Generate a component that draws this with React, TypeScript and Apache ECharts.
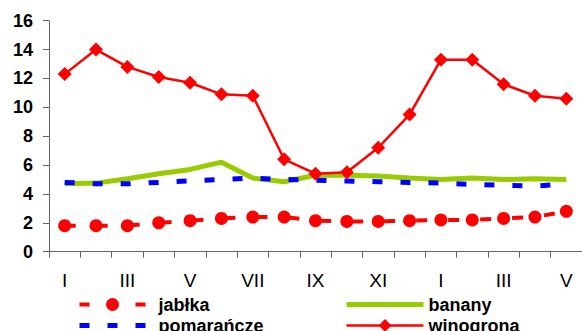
import React, { useEffect, useRef } from "react";
import * as echarts from "echarts";

const categories = ["I", "II", "III", "IV", "V", "VI", "VII", "VIII", "IX", "X", "XI", "XII", "I", "II", "III", "IV", "V"];
const jablka = [1.8, 1.8, 1.8, 2.0, 2.15, 2.3, 2.4, 2.4, 2.15, 2.1, 2.1, 2.15, 2.2, 2.2, 2.3, 2.4, 2.8];
const pomarancze = [4.8, 4.7, 4.7, 4.8, 4.9, 5.0, 5.1, 5.0, 4.95, 4.9, 4.85, 4.8, 4.75, 4.65, 4.6, 4.55, 4.7];
const banany = [4.7, 4.75, 5.05, 5.4, 5.7, 6.2, 5.1, 4.85, 5.3, 5.3, 5.25, 5.1, 5.0, 5.1, 5.0, 5.05, 5.0];
const winogrona = [12.3, 14.0, 12.8, 12.1, 11.7, 10.9, 10.8, 6.4, 5.4, 5.5, 7.2, 9.5, 13.3, 13.3, 11.6, 10.8, 10.6];
const yTicks = { min: 0, max: 16, interval: 2 };

const FONT = "'Liberation Sans', Arial, sans-serif";

export default function App() {
  const ref = useRef<HTMLDivElement>(null);
  useEffect(() => {
    if (!ref.current) return;
    const chart = echarts.init(ref.current, null, { renderer: "svg" });
    const legendText = {
      fontFamily: FONT,
      fontSize: 18,
      fontWeight: "bold" as const,
      color: "#000",
      lineHeight: 21,
    };
    chart.setOption({
      animation: false,
      backgroundColor: "#fff",
      grid: { left: 49, top: 20.7, bottom: 79.3, right: -11, containLabel: false },
      xAxis: {
        type: "category",
        data: categories,
        boundaryGap: true,
        axisLine: { show: true, lineStyle: { color: "#666", width: 1 } },
        axisTick: { show: true, interval: 0, length: 6, lineStyle: { color: "#666" } },
        axisLabel: {
          interval: 1,
          margin: 19,
          fontFamily: FONT,
          fontSize: 19,
          color: "#000",
        },
        splitLine: { show: false },
      },
      yAxis: {
        type: "value",
        min: yTicks.min,
        max: yTicks.max,
        interval: yTicks.interval,
        axisLine: { show: true, lineStyle: { color: "#666", width: 1 } },
        axisTick: { show: true, length: 6, lineStyle: { color: "#666" } },
        axisLabel: {
          margin: 16,
          fontFamily: FONT,
          fontSize: 18,
          fontWeight: "bold",
          color: "#000",
        },
        splitLine: { show: false },
      },
      legend: [
        {
          left: 77,
          top: 294,
          height: 60,
          padding: 0,
          orient: "vertical",
          itemWidth: 66,
          itemHeight: 16,
          itemGap: 0,
          textStyle: { ...legendText, padding: [0, 0, 0, 8] },
          data: [
            { name: "jabłka", lineStyle: { width: 4, type: [10, 18] } },
            { name: "pomarańcze", itemStyle: { opacity: 0 }, lineStyle: { width: 5, type: [10, 18] } },
          ],
        },
        {
          left: 344,
          top: 294,
          height: 60,
          padding: 0,
          orient: "vertical",
          itemWidth: 77,
          itemHeight: 16,
          itemGap: 0,
          textStyle: { ...legendText },
          data: [
            { name: "banany", itemStyle: { opacity: 0 }, lineStyle: { width: 5 } },
            { name: "winogrona", lineStyle: { width: 2.5 } },
          ],
        },
      ],
      series: [
        {
          name: "jabłka",
          type: "line",
          data: jablka,
          color: "#ff0000",
          lineStyle: { color: "#ff0000", width: 4, type: [11, 21] },
          symbol: "circle",
          symbolSize: 13,
          itemStyle: { color: "#ff0000" },
          z: 2,
        },
        {
          name: "banany",
          type: "line",
          data: banany,
          color: "#99cc00",
          lineStyle: { color: "#99cc00", width: 5 },
          symbol: "none",
          z: 3,
        },
        {
          name: "pomarańcze",
          type: "line",
          data: pomarancze,
          color: "#0000ff",
          lineStyle: { color: "#0000ff", width: 5, type: [10, 18] },
          symbol: "none",
          z: 4,
        },
        {
          name: "winogrona",
          type: "line",
          data: winogrona,
          color: "#ff0000",
          lineStyle: { color: "#ff0000", width: 2.5 },
          symbol: "diamond",
          symbolSize: 14,
          itemStyle: { color: "#ff0000" },
          z: 5,
        },
      ],
    });
    return () => chart.dispose();
  }, []);
  return <div ref={ref} style={{ position: "fixed", left: 0, top: 0, width: 582, height: 331 }} />;
}
